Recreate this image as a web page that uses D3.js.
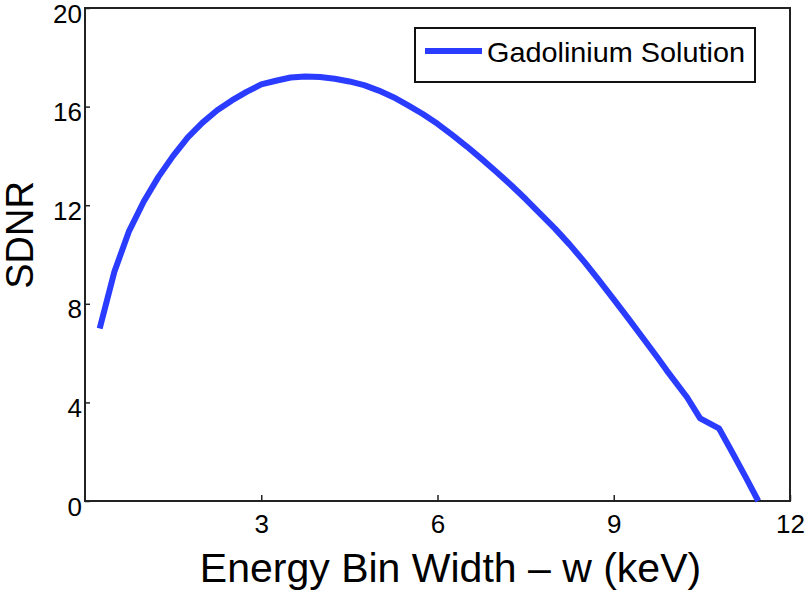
<!DOCTYPE html>
<html>
<head>
<meta charset="utf-8">
<script src="https://cdn.jsdelivr.net/npm/d3@7"></script>
<style>
  html, body { margin: 0; padding: 0; background: #fff; }
  svg { display: block; }
  text { font-family: "Liberation Sans", Arial, sans-serif; fill: #000; }
</style>
</head>
<body>
<script>
// ---- data ----
const binWidth = [0.25, 0.5, 0.75, 1.0, 1.25, 1.5, 1.75, 2.0, 2.25, 2.5, 2.75, 3.0,
  3.25, 3.5, 3.75, 4.0, 4.25, 4.5, 4.75, 5.0, 5.25, 5.5, 5.75, 6.0, 6.25, 6.5, 6.75,
  7.0, 7.25, 7.5, 7.75, 8.0, 8.25, 8.5, 8.75, 9.0, 9.25, 9.5, 9.75, 9.9, 10.25, 10.47,
  10.79, 11.0, 11.25, 11.46];
const sdnr = [7.0, 9.3, 10.95, 12.15, 13.15, 14.0, 14.75, 15.35, 15.85, 16.25, 16.6, 16.9,
  17.05, 17.18, 17.22, 17.2, 17.13, 17.02, 16.87, 16.65, 16.38, 16.05, 15.7, 15.3, 14.85,
  14.38, 13.88, 13.36, 12.82, 12.25, 11.65, 11.05, 10.4, 9.7, 8.95, 8.18, 7.4, 6.6, 5.8,
  5.3, 4.2, 3.35, 2.95, 2.05, 0.95, 0.0];
const xTicks = [3, 6, 9, 12];
const yTicks = [0, 4, 8, 12, 16, 20];
const seriesName = "Gadolinium Solution";
const xLabel = "Energy Bin Width \u2013 w (keV)";
const yLabel = "SDNR";

// ---- layout ----
const W = 810, H = 593;
const L = 85, R = 790, T = 8, B = 501;

const svg = d3.select("body").append("svg").attr("width", W).attr("height", H);

const x = d3.scaleLinear().domain([0, 12]).range([L, R]);
const y = d3.scaleLinear().domain([0, 20]).range([B, T]);

// axes
const xAxis = d3.axisBottom(x).tickValues(xTicks).tickSize(-6).tickPadding(0).tickFormat(d3.format("d"));
const yAxis = d3.axisLeft(y).tickValues(yTicks).tickSize(-5).tickPadding(0).tickFormat(d3.format("d"));

const gx = svg.append("g").attr("transform", `translate(0,${B})`).call(xAxis);
gx.select(".domain").remove();
gx.selectAll(".tick line").attr("stroke", "#222").attr("stroke-width", 1.5);
gx.selectAll(".tick text").attr("font-size", 26).attr("y", 32).attr("dy", null)
  .style("font-family", '"Liberation Sans", Arial, sans-serif').attr("fill", "#000");

const gy = svg.append("g").attr("transform", `translate(${L},0)`).call(yAxis);
gy.select(".domain").remove();
gy.selectAll(".tick line").attr("stroke", "#222").attr("stroke-width", 1.5);
gy.selectAll(".tick text").attr("font-size", 26).attr("x", -3).attr("dy", null).attr("y", 14)
  .style("font-family", '"Liberation Sans", Arial, sans-serif').attr("fill", "#000");

// box
svg.append("rect").attr("x", L).attr("y", T).attr("width", R - L).attr("height", B - T)
  .attr("fill", "none").attr("stroke", "#222").attr("stroke-width", 2);

// line
const pts = binWidth.map((d, i) => [d, sdnr[i]]);
svg.append("path").datum(pts)
  .attr("fill", "none").attr("stroke", "#2a3cff").attr("stroke-width", 6)
  .attr("stroke-linejoin", "round")
  .attr("d", d3.line().x(d => x(d[0])).y(d => y(d[1])));

// legend
const lg = svg.append("g");
lg.append("rect").attr("x", 415).attr("y", 28).attr("width", 340).attr("height", 54)
  .attr("fill", "#fff").attr("stroke", "#111").attr("stroke-width", 2);
lg.append("line").attr("x1", 425).attr("x2", 482).attr("y1", 51).attr("y2", 51)
  .attr("stroke", "#2a3cff").attr("stroke-width", 6);
lg.append("text").attr("x", 487).attr("y", 62).attr("font-size", 28)
  .attr("textLength", 258).attr("lengthAdjust", "spacingAndGlyphs").text(seriesName);

// axis labels
svg.append("text").attr("x", (193 + 708) / 2).attr("y", 582).attr("text-anchor", "middle")
  .attr("font-size", 41).text(xLabel);
svg.append("text").attr("transform", `translate(33,235) rotate(-90)`).attr("text-anchor", "middle")
  .attr("font-size", 38).text(yLabel);
</script>
</body>
</html>
